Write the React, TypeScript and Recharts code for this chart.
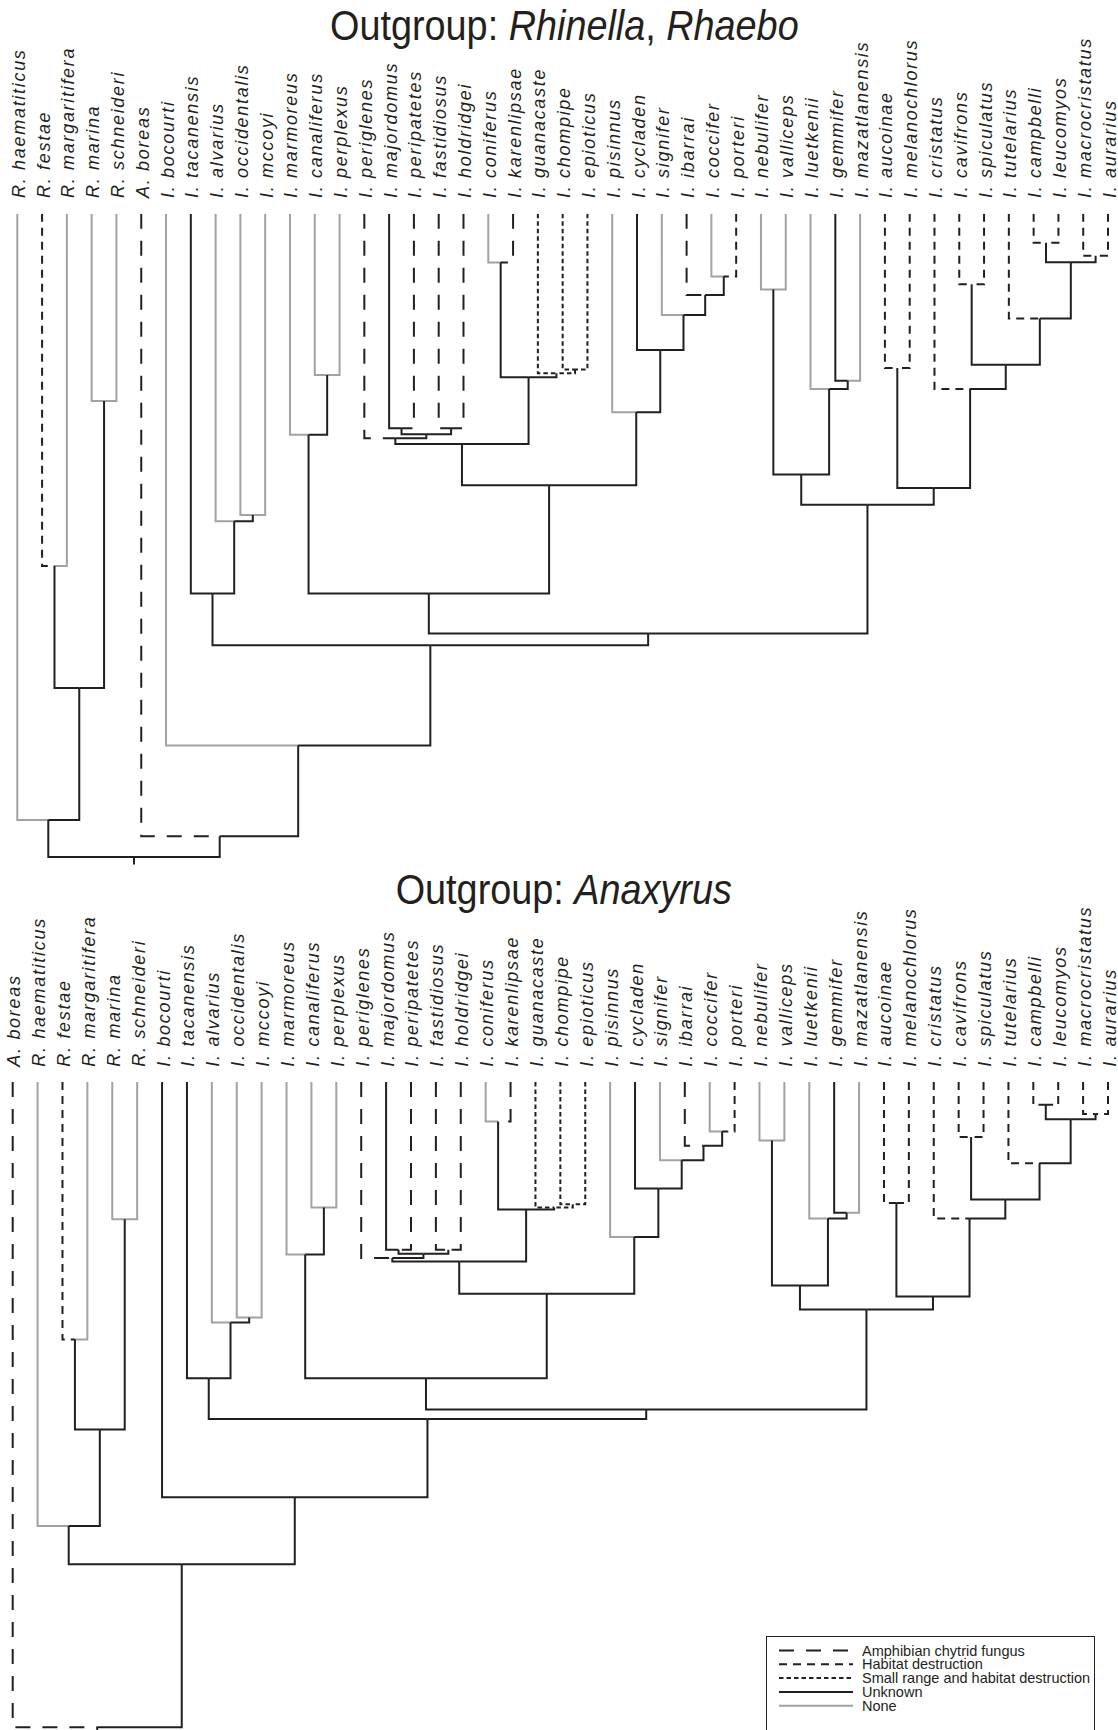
import React from 'react';
import { LineChart, Line, XAxis, YAxis } from 'recharts';

const INK = '#231f20';
const GRAY = '#a0a2a5';
const FONT = "'Liberation Sans', Arial, Helvetica, sans-serif";

// tip order of the two trees
const TOP_TAXA = [
  'R. haematiticus', 'R. festae', 'R. margaritifera', 'R. marina', 'R. schneideri', 'A. boreas',
  'I. bocourti', 'I. tacanensis', 'I. alvarius', 'I. occidentalis', 'I. mccoyi', 'I. marmoreus',
  'I. canaliferus', 'I. perplexus', 'I. periglenes', 'I. majordomus', 'I. peripatetes', 'I. fastidiosus',
  'I. holdridgei', 'I. coniferus', 'I. karenlipsae', 'I. guanacaste', 'I. chompipe', 'I. epioticus',
  'I. pisinnus', 'I. cycladen', 'I. signifer', 'I. ibarrai', 'I. coccifer', 'I. porteri',
  'I. nebulifer', 'I. valliceps', 'I. luetkenii', 'I. gemmifer', 'I. mazatlanensis', 'I. aucoinae',
  'I. melanochlorus', 'I. cristatus', 'I. cavifrons', 'I. spiculatus', 'I. tutelarius', 'I. campbelli',
  'I. leucomyos', 'I. macrocristatus', 'I. aurarius',
];
const TOP_STATUS = [
  'none', 'habitat', 'none', 'none', 'none', 'chytrid',
  'none', 'unknown', 'none', 'none', 'none', 'none',
  'none', 'none', 'chytrid', 'unknown', 'chytrid', 'chytrid',
  'chytrid', 'none', 'chytrid', 'small', 'small', 'small',
  'none', 'unknown', 'none', 'chytrid', 'none', 'habitat',
  'none', 'none', 'none', 'unknown', 'none', 'habitat',
  'habitat', 'habitat', 'habitat', 'habitat', 'habitat', 'habitat',
  'habitat', 'habitat', 'habitat',
];

const BOTTOM_TAXA = [
  'A. boreas', 'R. haematiticus', 'R. festae', 'R. margaritifera', 'R. marina', 'R. schneideri',
  ...TOP_TAXA.slice(6),
];
const BOTTOM_STATUS = [
  'chytrid', 'none', 'habitat', 'none', 'none', 'none',
  'unknown', ...TOP_STATUS.slice(7),
];

// [node id, left child, right child, depth below tips, stem status]
type TreeNode = [string, string, string, number, string?];

const TOP_NODES: TreeNode[] = [
  ['occ', 'I. occidentalis', 'I. mccoyi', 301.3],
  ['alv', 'I. alvarius', 'occ', 307.4],
  ['tac', 'I. tacanensis', 'alv', 379.6],
  ['can', 'I. canaliferus', 'I. perplexus', 161.2],
  ['marm', 'I. marmoreus', 'can', 220.9],
  ['mp', 'I. majordomus', 'I. peripatetes', 214.5],
  ['fh', 'I. fastidiosus', 'I. holdridgei', 214.5],
  ['q', 'mp', 'fh', 220.5],
  ['perig', 'I. periglenes', 'q', 224.5],
  ['ck', 'I. coniferus', 'I. karenlipsae', 48.8],
  ['ce', 'I. chompipe', 'I. epioticus', 155.6, 'small'],
  ['guan', 'I. guanacaste', 'ce', 159.5],
  ['con', 'ck', 'guan', 163.4],
  ['pg', 'perig', 'con', 230.3],
  ['cp', 'I. coccifer', 'I. porteri', 62.7],
  ['ib', 'I. ibarrai', 'cp', 81.3],
  ['sig', 'I. signifer', 'ib', 101.2],
  ['cyc', 'I. cycladen', 'sig', 136.2],
  ['pis', 'I. pisinnus', 'cyc', 198.4],
  ['mid', 'pg', 'pis', 271.5],
  ['mm', 'marm', 'mid', 379.6],
  ['nv', 'I. nebulifer', 'I. valliceps', 75.6],
  ['gm', 'I. gemmifer', 'I. mazatlanensis', 166.9],
  ['lu', 'I. luetkenii', 'gm', 175.1],
  ['neb', 'nv', 'lu', 260.7],
  ['am', 'I. aucoinae', 'I. melanochlorus', 154.3],
  ['cs', 'I. cavifrons', 'I. spiculatus', 70.5],
  ['cl', 'I. campbelli', 'I. leucomyos', 28.9],
  ['ma', 'I. macrocristatus', 'I. aurarius', 41.9],
  ['clma', 'cl', 'ma', 48.4],
  ['tut', 'I. tutelarius', 'clma', 104.6],
  ['cav', 'cs', 'tut', 150.9],
  ['cri', 'I. cristatus', 'cav', 175.1],
  ['auc', 'am', 'cri', 274.1],
  ['east', 'neb', 'auc', 290.9],
  ['ce2', 'mm', 'east', 419.8],
  ['big', 'tac', 'ce2', 431.5],
  ['inc', 'I. bocourti', 'big', 531.8],
  ['bor', 'A. boreas', 'inc', 622.5],
  ['ms', 'R. marina', 'R. schneideri', 187.2],
  ['fm', 'R. festae', 'R. margaritifera', 352.3],
  ['fmms', 'fm', 'ms', 474.3],
  ['rhin', 'R. haematiticus', 'fmms', 606.2],
  ['root', 'rhin', 'bor', 643.3],
];
const TOP_ROOT_STEM = 650.6;

const BOTTOM_NODES: TreeNode[] = [
  ['occ', 'I. occidentalis', 'I. mccoyi', 235.6],
  ['alv', 'I. alvarius', 'occ', 240.5],
  ['tac', 'I. tacanensis', 'alv', 296.4],
  ['can', 'I. canaliferus', 'I. perplexus', 125.5],
  ['marm', 'I. marmoreus', 'can', 172.6],
  ['mp', 'I. majordomus', 'I. peripatetes', 167.8],
  ['fh', 'I. fastidiosus', 'I. holdridgei', 167.8],
  ['q', 'mp', 'fh', 171.8],
  ['perig', 'I. periglenes', 'q', 176.1],
  ['ck', 'I. coniferus', 'I. karenlipsae', 39.6],
  ['ce', 'I. chompipe', 'I. epioticus', 122.4, 'small'],
  ['guan', 'I. guanacaste', 'ce', 125.5],
  ['con', 'ck', 'guan', 127.7],
  ['pg', 'perig', 'con', 179.7],
  ['cp', 'I. coccifer', 'I. porteri', 49.7],
  ['ib', 'I. ibarrai', 'cp', 63.8],
  ['sig', 'I. signifer', 'ib', 78.4],
  ['cyc', 'I. cycladen', 'sig', 106.6],
  ['pis', 'I. pisinnus', 'cyc', 155],
  ['mid', 'pg', 'pis', 211.8],
  ['mm', 'marm', 'mid', 296.4],
  ['nv', 'I. nebulifer', 'I. valliceps', 58.5],
  ['gm', 'I. gemmifer', 'I. mazatlanensis', 130.8],
  ['lu', 'I. luetkenii', 'gm', 136.5],
  ['neb', 'nv', 'lu', 203.5],
  ['am', 'I. aucoinae', 'I. melanochlorus', 121.1],
  ['cs', 'I. cavifrons', 'I. spiculatus', 55],
  ['cl', 'I. campbelli', 'I. leucomyos', 22.9],
  ['ma', 'I. macrocristatus', 'I. aurarius', 32.1],
  ['clma', 'cl', 'ma', 37.4],
  ['tut', 'I. tutelarius', 'clma', 81.4],
  ['cav', 'cs', 'tut', 117.6],
  ['cri', 'I. cristatus', 'cav', 136.5],
  ['auc', 'am', 'cri', 214.5],
  ['east', 'neb', 'auc', 227.7],
  ['ce2', 'mm', 'east', 327.7],
  ['big', 'tac', 'ce2', 337],
  ['inc', 'I. bocourti', 'big', 415.4],
  ['ms', 'R. marina', 'R. schneideri', 137.4],
  ['fm', 'R. festae', 'R. margaritifera', 257.7],
  ['fmms', 'fm', 'ms', 347.5],
  ['rhin', 'R. haematiticus', 'fmms', 444],
  ['ri', 'rhin', 'inc', 482.3],
  ['root', 'A. boreas', 'ri', 645.3],
];
const BOTTOM_ROOT_STEM = 648.1;

const LEGEND_KEYS = ['chytrid', 'habitat', 'small', 'unknown', 'none'];
const LEGEND_LABELS = [
  'Amphibian chytrid fungus',
  'Habitat destruction',
  'Small range and habitat destruction',
  'Unknown',
  'None',
];

const STATUS_STYLE: Record<string, { stroke: string; dash?: string }> = {
  chytrid: { stroke: INK, dash: '15 12' },
  habitat: { stroke: INK, dash: '8 6' },
  small: { stroke: INK, dash: '4.5 3' },
  unknown: { stroke: INK },
  none: { stroke: GRAY },
};

type Pt = { x: number; y: number };
type Branch = { status: string; pts: Pt[] };

function buildBranches(taxa: string[], status: string[], nodes: TreeNode[], rootStem: number) {
  const pos: Record<string, { x: number; d: number; s: string }> = {};
  taxa.forEach((t, i) => (pos[t] = { x: i, d: 0, s: status[i] }));
  const out: Branch[] = [];
  nodes.forEach(([id, a, b, d, s]) => {
    const x = (pos[a].x + pos[b].x) / 2;
    [pos[a], pos[b]].forEach((c) =>
      out.push({ status: c.s, pts: [{ x: c.x, y: c.d }, { x: c.x, y: d }, { x, y: d }] })
    );
    pos[id] = { x, d, s: s ?? 'unknown' };
  });
  const root = pos[nodes[nodes.length - 1][0]];
  out.push({ status: 'unknown', pts: [{ x: root.x, y: root.d }, { x: root.x, y: rootStem }] });
  return out;
}

const TICKS = TOP_TAXA.map((_, i) => i);

function Tree({ taxa, status, nodes, rootStem, margin, height, depth, labelY }: {
  taxa: string[]; status: string[]; nodes: TreeNode[]; rootStem: number;
  margin: { top: number; right: number; bottom: number; left: number };
  height: number; depth: number; labelY: number;
}) {
  const branches = buildBranches(taxa, status, nodes, rootStem);
  const tick = (props: any) => (
    <text
      transform={`translate(${props.x + 7.5},${labelY}) rotate(-90)`}
      fontSize={18}
      fontStyle="italic"
      fontFamily={FONT}
      letterSpacing={1.7}
      fill={INK}
    >
      {taxa[props.payload.value]}
    </text>
  );
  return (
    <LineChart width={1118} height={height} margin={margin}>
      <XAxis
        type="number"
        dataKey="x"
        domain={[0, taxa.length - 1]}
        ticks={TICKS}
        interval={0}
        orientation="top"
        height={1}
        axisLine={false}
        tickLine={false}
        tick={tick}
      />
      <YAxis type="number" dataKey="y" hide reversed domain={[0, depth]} allowDataOverflow />
      {branches.map((b, i) => (
        <Line
          key={i}
          data={b.pts}
          dataKey="y"
          type="linear"
          stroke={STATUS_STYLE[b.status].stroke}
          strokeDasharray={STATUS_STYLE[b.status].dash}
          strokeWidth={2}
          dot={false}
          activeDot={false}
          isAnimationActive={false}
        />
      ))}
    </LineChart>
  );
}

function Title({ top, children }: { top: number; children: React.ReactNode }) {
  return (
    <div style={{ position: 'absolute', left: 10, top, width: 1108, textAlign: 'center', fontFamily: FONT, fontSize: 42, lineHeight: '42px', color: INK }}>
      <span style={{ display: 'inline-block', transform: 'scaleX(0.9)' }}>{children}</span>
    </div>
  );
}

function ThreatLegend() {
  return (
    <div style={{ position: 'absolute', left: 766, top: 1636, width: 329, height: 120, border: `1.5px solid ${INK}`, boxSizing: 'border-box', background: '#fff' }}>
      <svg width={326} height={117} style={{ position: 'absolute', left: 0, top: 0 }}>
        {LEGEND_KEYS.map((k, i) => {
          const y = 13.5 + i * 13.8;
          return (
            <g key={k}>
              <line x1={12} x2={86} y1={y} y2={y} stroke={STATUS_STYLE[k].stroke} strokeDasharray={STATUS_STYLE[k].dash} strokeWidth={2} />
              <text x={95} y={y + 5} fontSize={14.5} fontFamily={FONT} fill={INK}>{LEGEND_LABELS[i]}</text>
            </g>
          );
        })}
      </svg>
    </div>
  );
}

export default function App() {
  return (
    <div style={{ position: 'absolute', left: 0, top: 0, width: 1118, height: 1730, overflow: 'hidden', background: '#fff' }}>
      <Title top={5}>
        Outgroup: <i>Rhinella</i>, <i>Rhaebo</i>
      </Title>
      <div style={{ position: 'absolute', left: 0, top: 0 }}>
        <Tree
          taxa={TOP_TAXA}
          status={TOP_STATUS}
          nodes={TOP_NODES}
          rootStem={TOP_ROOT_STEM}
          margin={{ top: 212.8, right: 10, bottom: 6.2, left: 17.3 }}
          height={880}
          depth={660}
          labelY={198}
        />
      </div>
      <Title top={869}>
        Outgroup: <i>Anaxyrus</i>
      </Title>
      <div style={{ position: 'absolute', left: 0, top: 900 }}>
        <Tree
          taxa={BOTTOM_TAXA}
          status={BOTTOM_STATUS}
          nodes={BOTTOM_NODES}
          rootStem={BOTTOM_ROOT_STEM}
          margin={{ top: 180.9, right: 10, bottom: 0, left: 12.7 }}
          height={830}
          depth={648.1}
          labelY={166.7}
        />
      </div>
      <ThreatLegend />
    </div>
  );
}
